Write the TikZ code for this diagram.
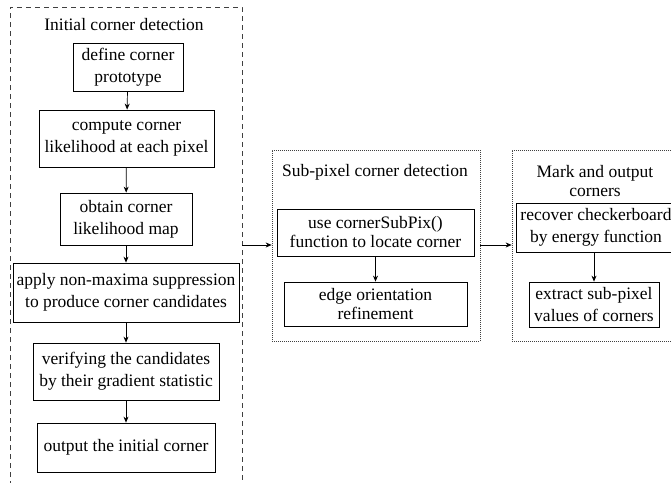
\documentclass[tikz,border=0pt]{standalone}
\usepackage{fontspec}
\setmainfont{Liberation Serif}
\usetikzlibrary{arrows.meta}
\tikzset{
  stepbox/.style={draw=black, line width=0.8pt, align=center, inner sep=0pt,
    font=\fontsize{17.5}{22}\selectfont},
  tbox/.style={stepbox, font=\fontsize{17.5}{19}\selectfont},
  ttl/.style={align=center, inner sep=0pt, font=\fontsize{17.5}{19}\selectfont},
  dotbox/.style={draw=black!75, line width=0.7pt, dash pattern=on 1pt off 1pt, inner sep=0pt},
  dashbox/.style={draw=black!75, line width=0.8pt, dash pattern=on 5pt off 4pt},
  arr/.style={-{Stealth[length=6pt,width=5pt]}, line width=0.7pt, draw=black}
}
\begin{document}
\begin{tikzpicture}[x=1pt,y=-1pt]
\clip (0,0) rectangle (671,482);
\fill[white] (0,0) rectangle (671,482);
% left container (open at bottom)
\draw[dashbox] (10,495) -- (10,7) -- (242,7) -- (242,495);
\coordinate (lefte) at (242,245);
\node[ttl] (t1) at (124,25) {Initial corner detection};
\node[stepbox, minimum width=110, minimum height=48] (b1) at (128,67) {define corner\\prototype};
\node[stepbox, minimum width=175, minimum height=57] (b2) at (126.5,138.5) {compute corner\\likelihood at each pixel};
\node[stepbox, minimum width=132, minimum height=52] (b3) at (126,219) {obtain corner\\likelihood map};
\node[stepbox, minimum width=226, minimum height=59] (b4) at (126,292.5) {apply non-maxima suppression\\to produce corner candidates};
\node[stepbox, minimum width=186, minimum height=57] (b5) at (126,371.5) {verifying the candidates\\by their gradient statistic};
\node[stepbox, minimum width=178, minimum height=49] (b6) at (126,447.5) {output the initial corner};
\draw[arr] (b1) -- (b2);
\draw[arr] (b2) -- (b3);
\draw[arr] (b3) -- (b4);
\draw[arr] (b4) -- (b5);
\draw[arr] (b5) -- (b6);
% middle container
\node[dotbox, minimum width=208, minimum height=191] (mid) at (376,245.5) {};
\node[ttl] (t2) at (375,172) {Sub-pixel corner detection};
\node[tbox, minimum width=197, minimum height=47] (m1) at (375.5,232.5) {use cornerSubPix()\\function to locate corner};
\node[tbox, minimum width=183, minimum height=44] (m2) at (375.5,304) {edge orientation\\refinement};
\draw[arr] (m1) -- (m2);
% right container
\node[dotbox, minimum width=178, minimum height=191] (rgt) at (601,245.5) {};
\node[ttl] (t3) at (595,181) {Mark and output\\corners};
\node[stepbox, minimum width=160, minimum height=49] (r1) at (596,227.5) {recover checkerboard\\by energy function};
\node[stepbox, minimum width=130, minimum height=45] (r2) at (594,304.5) {extract sub-pixel\\values of corners};
\draw[arr] (r1.south -| r2) -- (r2);
% connectors between containers
\draw[arr] (lefte) -- (mid.west |- lefte);
\draw[arr] (mid.east |- lefte) -- (rgt.west |- lefte);
\end{tikzpicture}
\end{document}
